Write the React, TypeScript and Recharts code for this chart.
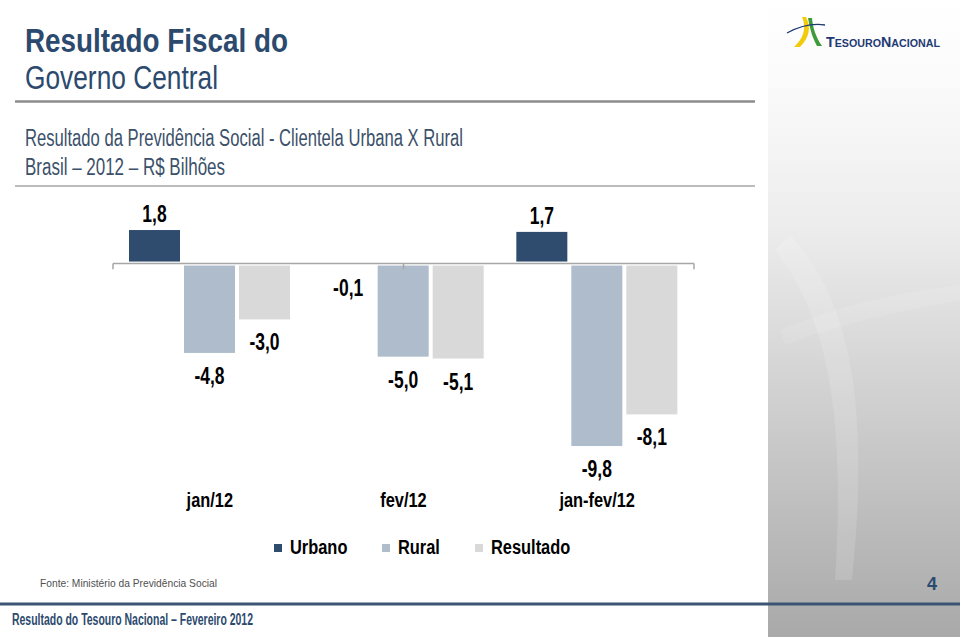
import React from 'react';
import { BarChart, Bar, XAxis, YAxis, ReferenceLine, Legend, LabelList } from 'recharts';

// Resultado da Previdência Social - Urbana x Rural, R$ bilhões
const categories = ['jan/12', 'fev/12', 'jan-fev/12'];
const urbano = [1.8, -0.1, 1.7];
const rural = [-4.8, -5.0, -9.8];
const resultado = [-3.0, -5.1, -8.1];
const edgeTicks = [0, 1, 2, 3];

const series = [
  { key: 'urbano', name: 'Urbano', color: '#2F4B6E' },
  { key: 'rural', name: 'Rural', color: '#AEBCCB' },
  { key: 'resultado', name: 'Resultado', color: '#D9D9D9' },
];

const data = categories.map((periodo, i) => ({
  periodo,
  urbano: urbano[i],
  rural: rural[i],
  resultado: resultado[i],
}));

const FONT = "'Liberation Sans', Arial, sans-serif";
const SQUEEZE = 0.82; // no condensed face installed, so squeeze Liberation Sans
const NAVY = '#2C4A6E';
const fmt = (v: number) => v.toFixed(1).replace('.', ',');

let ctx: CanvasRenderingContext2D | null = null;
const textWidth = (t: string, font: string) => {
  if (!ctx) ctx = document.createElement('canvas').getContext('2d');
  if (!ctx) return t.length * 10;
  ctx.font = font;
  return ctx.measureText(t).width;
};

const Narrow = ({ x, y, size, bold, fill, anchor, squeeze, children }: any) => (
  <g transform={`translate(${x},${y}) scale(${squeeze || SQUEEZE},1)`}>
    <text x={0} y={0} textAnchor={anchor || 'middle'} fill={fill || '#000'}
      style={{ fontFamily: FONT, fontWeight: bold ? 700 : 400, fontSize: size }}>
      {children}
    </text>
  </g>
);

// bars stop a couple of pixels short of the zero line, like the original
const gapBar = (key: string) => (p: any) => {
  const v = p.payload?.[key] ?? 0;
  const t0 = Math.min(p.y, p.y + p.height);
  const b0 = Math.max(p.y, p.y + p.height);
  const top = v >= 0 ? t0 : t0 + 2;
  const bot = v >= 0 ? b0 - 2 : b0;
  if (bot - top <= 0) return <g />;
  return <rect x={p.x} y={top} width={p.width} height={bot - top} fill={p.fill} />;
};

const valueLabel = (p: any) => {
  const v = Number(p.value);
  const top = Math.min(p.y, p.y + p.height);
  const bot = Math.max(p.y, p.y + p.height);
  const ty = v >= 0 ? top - 8 : bot + 31;
  return <Narrow x={p.x + p.width / 2} y={ty} size={23} squeeze={0.76} bold>{fmt(v)}</Narrow>;
};

const categoryTick = (p: any) => (
  <Narrow x={p.x} y={p.y + 14} size={20} bold>{p.payload.value}</Narrow>
);

const legendContent = (p: any) => {
  const order = series.map((s) => s.name);
  const items = [...(p.payload || [])].sort((a: any, b: any) => order.indexOf(a.value) - order.indexOf(b.value));
  return (
    <div style={{ display: 'flex', justifyContent: 'center', alignItems: 'center', height: 30 }}>
      {items.map((e: any, i: number) => {
        const w = textWidth(e.value, `700 20px ${FONT}`) * SQUEEZE;
        return (
          <div key={e.value} style={{ display: 'flex', alignItems: 'center', marginLeft: i ? 31 : 0 }}>
            <span style={{ display: 'inline-block', width: 8, height: 8, background: e.color, marginRight: 8, marginTop: 2 }} />
            <svg width={w + 4} height={30} style={{ display: 'block', overflow: 'visible' }}>
              <text x={0} y={22} textLength={w} lengthAdjust="spacingAndGlyphs" fill="#000"
                style={{ fontFamily: FONT, fontWeight: 700, fontSize: 20 }}>{e.value}</text>
            </svg>
          </div>
        );
      })}
    </div>
  );
};

function Slide() {
  return (
    <svg width={960} height={639} style={{ position: 'absolute', left: 0, top: 0 }}>
      <defs>
        <linearGradient id="panel" x1="0" y1="0" x2="0" y2="1">
          <stop offset="0" stopColor="#FFFFFF" />
          <stop offset="0.12" stopColor="#FBFBFB" />
          <stop offset="0.35" stopColor="#EDEDED" />
          <stop offset="1" stopColor="#A9A9A9" />
        </linearGradient>
      </defs>
      <rect x={0} y={0} width={960} height={639} fill="#FFFFFF" />
      <rect x={768} y={0} width={192} height={637} fill="url(#panel)" />
      <path d="M790 235 C 850 300, 870 400, 852 580 L 835 580 C 845 420, 830 320, 775 250 Z" fill="#FFFFFF" opacity={0.14} />
      <path d="M780 330 C 850 300, 920 290, 960 285 L 960 300 C 910 310, 850 320, 785 345 Z" fill="#FFFFFF" opacity={0.1} />

      {/* logo */}
      <path d="M802 17 C 807 28, 803 39, 794 47 L 800 47 C 810 37, 811 27, 806 17 Z" fill="#F2CC0C" />
      <path d="M808 18 C 810 30, 813 39, 817 46 L 822 46 C 816 37, 813 29, 812 18 Z" fill="#3E9B3A" />
      <path d="M787 33 C 800 26, 812 23, 825 25" stroke="#1F3A73" strokeWidth={1.3} fill="none" />
      <text x={826} y={47} textLength={114} lengthAdjust="spacingAndGlyphs" fill="#1F3A73"
        style={{ fontFamily: FONT, fontWeight: 700, fontSize: 10.5 }}>
        <tspan style={{ fontSize: 14 }}>T</tspan>ESOURO<tspan style={{ fontSize: 14 }}>N</tspan>ACIONAL
      </text>

      {/* header */}
      <text x={25} y={52} textLength={263} lengthAdjust="spacingAndGlyphs" fill={NAVY}
        style={{ fontFamily: FONT, fontWeight: 700, fontSize: 34 }}>Resultado Fiscal do</text>
      <text x={25} y={89} textLength={193} lengthAdjust="spacingAndGlyphs" fill={NAVY}
        style={{ fontFamily: FONT, fontSize: 34 }}>Governo Central</text>
      <line x1={15} y1={101.5} x2={755} y2={101.5} stroke="#8C8C8C" strokeWidth={2.5} />
      <text x={25} y={146} textLength={438} lengthAdjust="spacingAndGlyphs" fill="#3B506A"
        style={{ fontFamily: FONT, fontSize: 23 }}>Resultado da Previdência Social - Clientela Urbana X Rural</text>
      <text x={25} y={175} textLength={200} lengthAdjust="spacingAndGlyphs" fill="#3B506A"
        style={{ fontFamily: FONT, fontSize: 23 }}>Brasil – 2012 – R$ Bilhões</text>
      <line x1={15} y1={186} x2={755} y2={186} stroke="#A6A6A6" strokeWidth={1.5} />

      {/* footer */}
      <text x={40} y={587} textLength={177} lengthAdjust="spacingAndGlyphs" fill="#505050"
        style={{ fontFamily: FONT, fontSize: 11 }}>Fonte:  Ministério da Previdência Social</text>
      <text x={932} y={590} textAnchor="middle" fill={NAVY}
        style={{ fontFamily: FONT, fontWeight: 700, fontSize: 18 }}>4</text>
      <line x1={0} y1={604} x2={960} y2={604} stroke="#3B5475" strokeWidth={3} />
      <text x={12} y={625} textLength={241} lengthAdjust="spacingAndGlyphs" fill={NAVY}
        style={{ fontFamily: FONT, fontWeight: 700, fontSize: 16 }}>Resultado do Tesouro Nacional – Fevereiro 2012</text>
    </svg>
  );
}

export default function App() {
  return (
    <div style={{ position: 'absolute', left: 0, top: 0, width: 960, height: 639, overflow: 'hidden', background: '#fff' }}>
      <Slide />
      <div style={{ position: 'absolute', left: 0, top: 190 }}>
        <BarChart width={840} height={380} data={data} barSize={51} barGap={4}
          margin={{ top: 27, right: 146, bottom: 8, left: 113 }}>
          <XAxis dataKey="periodo" axisLine={false} tickLine={false} height={45} tickMargin={0} interval={0}
            tick={categoryTick} />
          <XAxis xAxisId="edge" type="number" domain={[0, 3]} hide allowDataOverflow />
          <YAxis hide domain={[-12, 2.5]} allowDataOverflow />
          <ReferenceLine y={0} stroke="#A6A6A6" strokeWidth={1.5} />
          {edgeTicks.map((t) => (
            <ReferenceLine key={t} xAxisId="edge" ifOverflow="visible"
              segment={[{ x: t, y: 0 }, { x: t, y: -0.3 }]} stroke="#A6A6A6" strokeWidth={1.5} />
          ))}
          {series.map((s) => (
            <Bar key={s.key} dataKey={s.key} name={s.name} fill={s.color} isAnimationActive={false}
              shape={gapBar(s.key)}>
              <LabelList dataKey={s.key} content={valueLabel} />
            </Bar>
          ))}
          <Legend verticalAlign="bottom" align="center" height={30} content={legendContent}
            wrapperStyle={{ left: 4, width: 840 }} />
        </BarChart>
      </div>
    </div>
  );
}
